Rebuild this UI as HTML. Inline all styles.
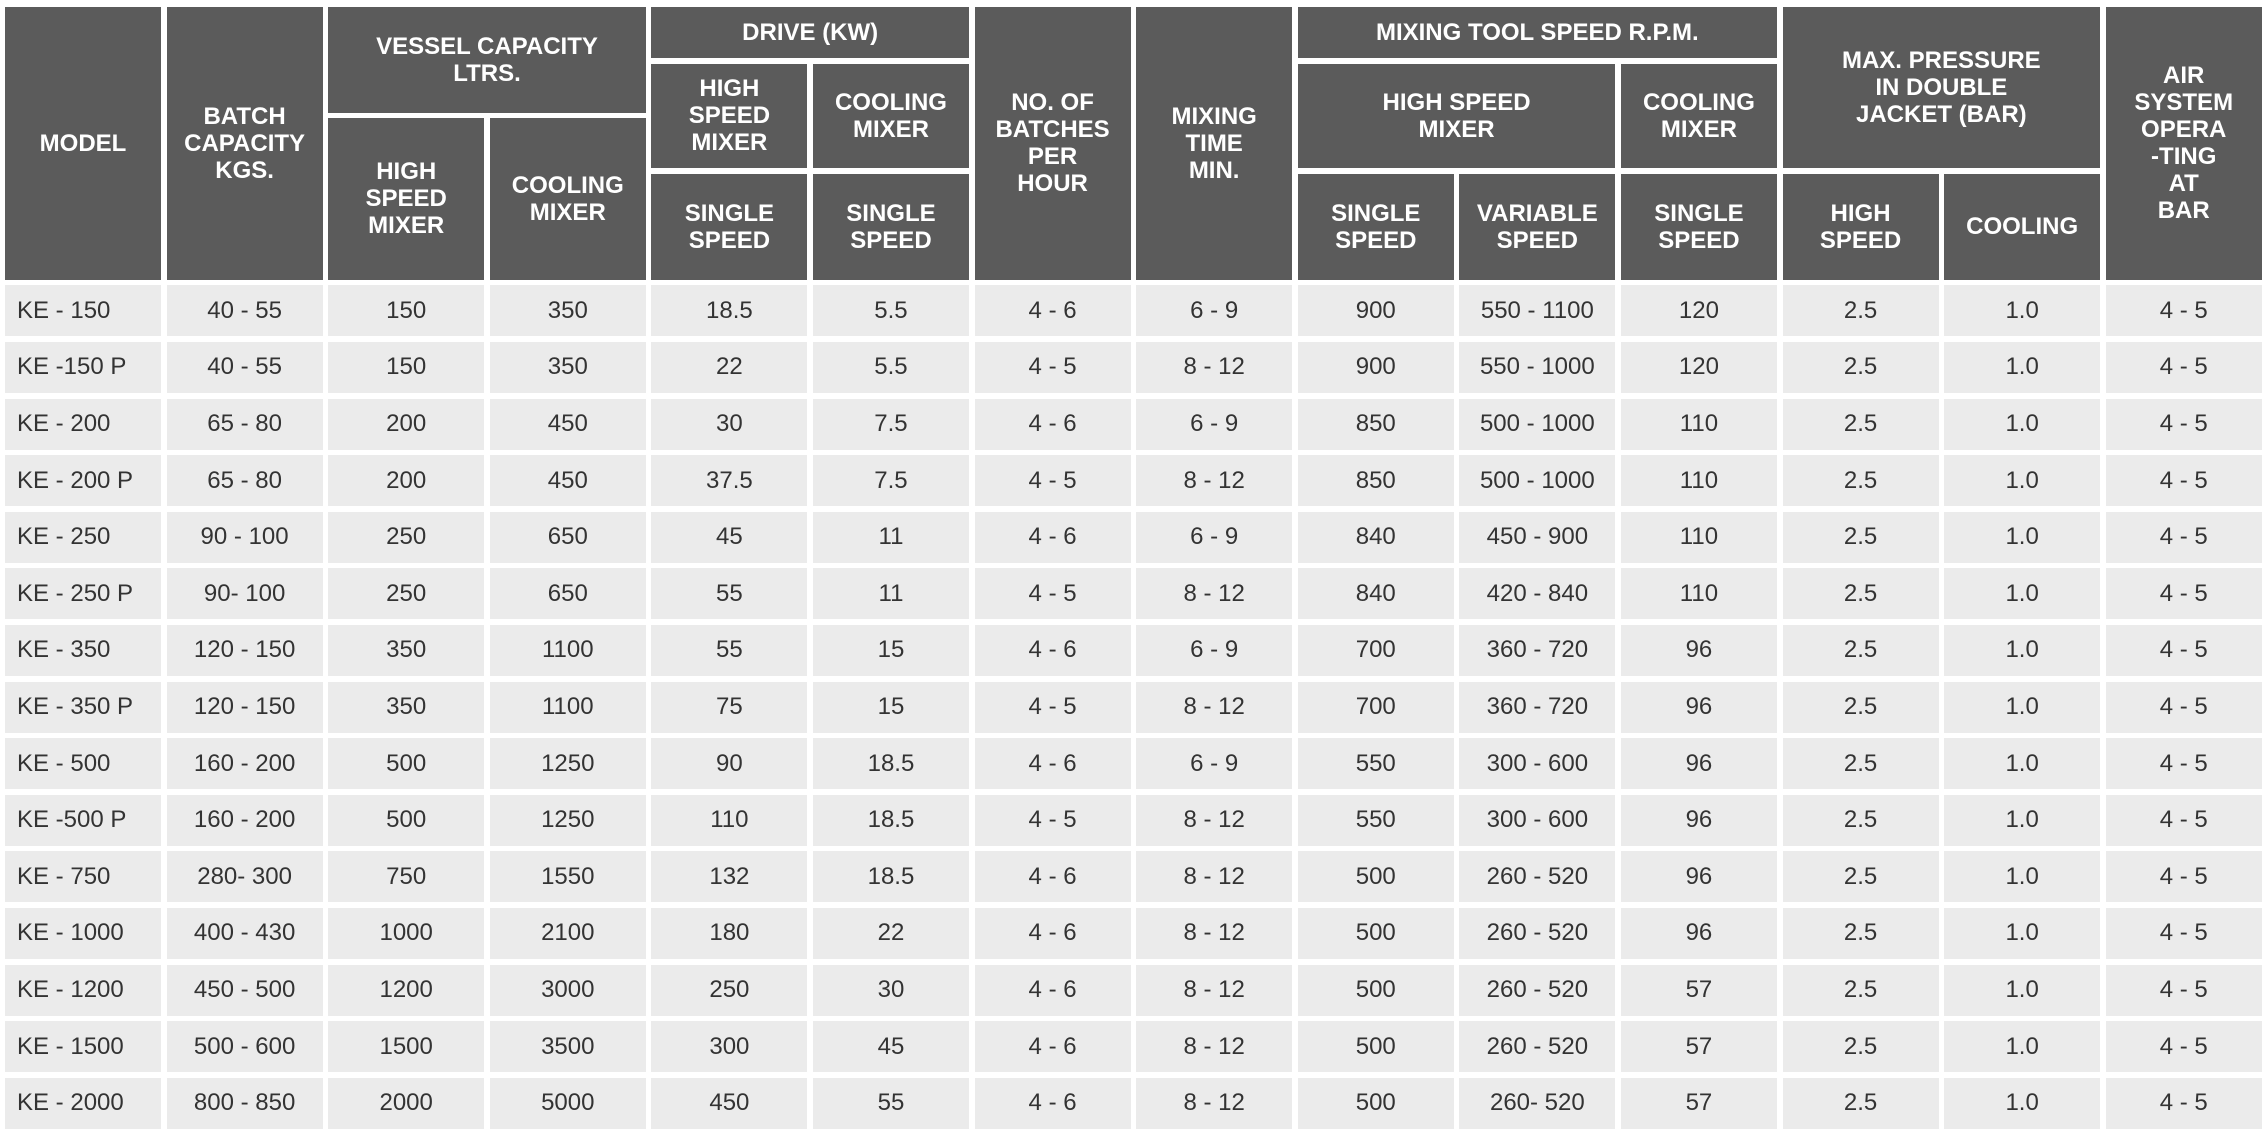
<!DOCTYPE html>
<html><head><meta charset="utf-8">
<style>
html,body{margin:0;padding:0;background:#fff;}
body{width:2268px;height:1131px;overflow:hidden;position:relative;font-family:"Liberation Sans",Arial,sans-serif;}
.g{position:absolute;left:5px;top:7px;display:grid;grid-template-columns:repeat(14,156px);column-gap:5.6px;row-gap:5.6px;grid-template-rows:51px 49px 50px 106px repeat(15,51px);}
.h{background:#5b5b5b;color:#fff;font-weight:bold;font-size:24px;line-height:27px;display:flex;align-items:center;justify-content:center;text-align:center;}
.g>div.b{background:#ebebeb;color:#333;font-size:24px;display:flex;align-items:center;justify-content:center;}
.g>div.m{justify-content:flex-start;padding-left:12px;}
</style></head><body>
<div class="g">
<div class="h" style="grid-column:1;grid-row:1/5">MODEL</div>
<div class="h" style="grid-column:2;grid-row:1/5">BATCH<br>CAPACITY<br>KGS.</div>
<div class="h" style="grid-column:3/5;grid-row:1/3">VESSEL CAPACITY<br>LTRS.</div>
<div class="h" style="grid-column:3;grid-row:3/5">HIGH<br>SPEED<br>MIXER</div>
<div class="h" style="grid-column:4;grid-row:3/5">COOLING<br>MIXER</div>
<div class="h" style="grid-column:5/7;grid-row:1">DRIVE (KW)</div>
<div class="h" style="grid-column:5;grid-row:2/4">HIGH<br>SPEED<br>MIXER</div>
<div class="h" style="grid-column:6;grid-row:2/4">COOLING<br>MIXER</div>
<div class="h" style="grid-column:5;grid-row:4">SINGLE<br>SPEED</div>
<div class="h" style="grid-column:6;grid-row:4">SINGLE<br>SPEED</div>
<div class="h" style="grid-column:7;grid-row:1/5">NO. OF<br>BATCHES<br>PER<br>HOUR</div>
<div class="h" style="grid-column:8;grid-row:1/5">MIXING<br>TIME<br>MIN.</div>
<div class="h" style="grid-column:9/12;grid-row:1">MIXING TOOL SPEED R.P.M.</div>
<div class="h" style="grid-column:9/11;grid-row:2/4">HIGH SPEED<br>MIXER</div>
<div class="h" style="grid-column:11;grid-row:2/4">COOLING<br>MIXER</div>
<div class="h" style="grid-column:9;grid-row:4">SINGLE<br>SPEED</div>
<div class="h" style="grid-column:10;grid-row:4">VARIABLE<br>SPEED</div>
<div class="h" style="grid-column:11;grid-row:4">SINGLE<br>SPEED</div>
<div class="h" style="grid-column:12/14;grid-row:1/4">MAX. PRESSURE<br>IN DOUBLE<br>JACKET (BAR)</div>
<div class="h" style="grid-column:12;grid-row:4">HIGH<br>SPEED</div>
<div class="h" style="grid-column:13;grid-row:4">COOLING</div>
<div class="h" style="grid-column:14;grid-row:1/5">AIR<br>SYSTEM<br>OPERA<br>-TING<br>AT<br>BAR</div>

<div class="b m">KE - 150</div><div class="b">40 - 55</div><div class="b">150</div><div class="b">350</div><div class="b">18.5</div><div class="b">5.5</div><div class="b">4 - 6</div><div class="b">6 - 9</div><div class="b">900</div><div class="b">550 - 1100</div><div class="b">120</div><div class="b">2.5</div><div class="b">1.0</div><div class="b">4 - 5</div>
<div class="b m">KE -150 P</div><div class="b">40 - 55</div><div class="b">150</div><div class="b">350</div><div class="b">22</div><div class="b">5.5</div><div class="b">4 - 5</div><div class="b">8 - 12</div><div class="b">900</div><div class="b">550 - 1000</div><div class="b">120</div><div class="b">2.5</div><div class="b">1.0</div><div class="b">4 - 5</div>
<div class="b m">KE - 200</div><div class="b">65 - 80</div><div class="b">200</div><div class="b">450</div><div class="b">30</div><div class="b">7.5</div><div class="b">4 - 6</div><div class="b">6 - 9</div><div class="b">850</div><div class="b">500 - 1000</div><div class="b">110</div><div class="b">2.5</div><div class="b">1.0</div><div class="b">4 - 5</div>
<div class="b m">KE - 200 P</div><div class="b">65 - 80</div><div class="b">200</div><div class="b">450</div><div class="b">37.5</div><div class="b">7.5</div><div class="b">4 - 5</div><div class="b">8 - 12</div><div class="b">850</div><div class="b">500 - 1000</div><div class="b">110</div><div class="b">2.5</div><div class="b">1.0</div><div class="b">4 - 5</div>
<div class="b m">KE - 250</div><div class="b">90 - 100</div><div class="b">250</div><div class="b">650</div><div class="b">45</div><div class="b">11</div><div class="b">4 - 6</div><div class="b">6 - 9</div><div class="b">840</div><div class="b">450 - 900</div><div class="b">110</div><div class="b">2.5</div><div class="b">1.0</div><div class="b">4 - 5</div>
<div class="b m">KE - 250 P</div><div class="b">90- 100</div><div class="b">250</div><div class="b">650</div><div class="b">55</div><div class="b">11</div><div class="b">4 - 5</div><div class="b">8 - 12</div><div class="b">840</div><div class="b">420 - 840</div><div class="b">110</div><div class="b">2.5</div><div class="b">1.0</div><div class="b">4 - 5</div>
<div class="b m">KE - 350</div><div class="b">120 - 150</div><div class="b">350</div><div class="b">1100</div><div class="b">55</div><div class="b">15</div><div class="b">4 - 6</div><div class="b">6 - 9</div><div class="b">700</div><div class="b">360 - 720</div><div class="b">96</div><div class="b">2.5</div><div class="b">1.0</div><div class="b">4 - 5</div>
<div class="b m">KE - 350 P</div><div class="b">120 - 150</div><div class="b">350</div><div class="b">1100</div><div class="b">75</div><div class="b">15</div><div class="b">4 - 5</div><div class="b">8 - 12</div><div class="b">700</div><div class="b">360 - 720</div><div class="b">96</div><div class="b">2.5</div><div class="b">1.0</div><div class="b">4 - 5</div>
<div class="b m">KE - 500</div><div class="b">160 - 200</div><div class="b">500</div><div class="b">1250</div><div class="b">90</div><div class="b">18.5</div><div class="b">4 - 6</div><div class="b">6 - 9</div><div class="b">550</div><div class="b">300 - 600</div><div class="b">96</div><div class="b">2.5</div><div class="b">1.0</div><div class="b">4 - 5</div>
<div class="b m">KE -500 P</div><div class="b">160 - 200</div><div class="b">500</div><div class="b">1250</div><div class="b">110</div><div class="b">18.5</div><div class="b">4 - 5</div><div class="b">8 - 12</div><div class="b">550</div><div class="b">300 - 600</div><div class="b">96</div><div class="b">2.5</div><div class="b">1.0</div><div class="b">4 - 5</div>
<div class="b m">KE - 750</div><div class="b">280- 300</div><div class="b">750</div><div class="b">1550</div><div class="b">132</div><div class="b">18.5</div><div class="b">4 - 6</div><div class="b">8 - 12</div><div class="b">500</div><div class="b">260 - 520</div><div class="b">96</div><div class="b">2.5</div><div class="b">1.0</div><div class="b">4 - 5</div>
<div class="b m">KE - 1000</div><div class="b">400 - 430</div><div class="b">1000</div><div class="b">2100</div><div class="b">180</div><div class="b">22</div><div class="b">4 - 6</div><div class="b">8 - 12</div><div class="b">500</div><div class="b">260 - 520</div><div class="b">96</div><div class="b">2.5</div><div class="b">1.0</div><div class="b">4 - 5</div>
<div class="b m">KE - 1200</div><div class="b">450 - 500</div><div class="b">1200</div><div class="b">3000</div><div class="b">250</div><div class="b">30</div><div class="b">4 - 6</div><div class="b">8 - 12</div><div class="b">500</div><div class="b">260 - 520</div><div class="b">57</div><div class="b">2.5</div><div class="b">1.0</div><div class="b">4 - 5</div>
<div class="b m">KE - 1500</div><div class="b">500 - 600</div><div class="b">1500</div><div class="b">3500</div><div class="b">300</div><div class="b">45</div><div class="b">4 - 6</div><div class="b">8 - 12</div><div class="b">500</div><div class="b">260 - 520</div><div class="b">57</div><div class="b">2.5</div><div class="b">1.0</div><div class="b">4 - 5</div>
<div class="b m">KE - 2000</div><div class="b">800 - 850</div><div class="b">2000</div><div class="b">5000</div><div class="b">450</div><div class="b">55</div><div class="b">4 - 6</div><div class="b">8 - 12</div><div class="b">500</div><div class="b">260- 520</div><div class="b">57</div><div class="b">2.5</div><div class="b">1.0</div><div class="b">4 - 5</div>
</div>
</body></html>
